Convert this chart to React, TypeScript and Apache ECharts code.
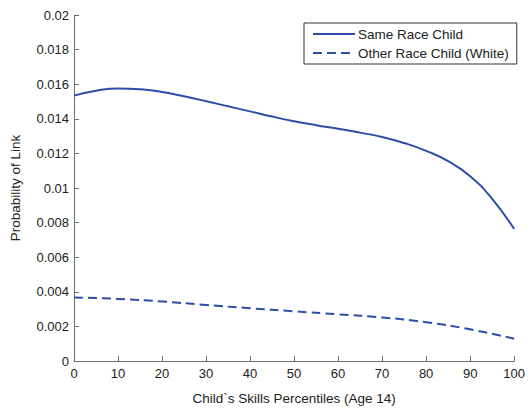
import React, { useEffect, useRef } from "react";
import * as echarts from "echarts";

const xSame = [0, 5, 10, 15, 20, 25, 30, 35, 40, 45, 50, 55, 60, 65, 70, 75, 80, 85, 90, 95, 100];
const sameRace = [0.01534, 0.01562, 0.01575, 0.01571, 0.01555, 0.0153, 0.01502, 0.01472, 0.01443, 0.01413, 0.01386, 0.01363, 0.01343, 0.0132, 0.01295, 0.0126, 0.01215, 0.01155, 0.01068, 0.00937, 0.00763];
const xOther = [0, 10, 20, 30, 40, 50, 60, 70, 80, 90, 100];
const otherRace = [0.00367, 0.00359, 0.00344, 0.00324, 0.00305, 0.00287, 0.0027, 0.00252, 0.00224, 0.00183, 0.00129];
const seriesNames = ["Same Race Child", "Other Race Child (White)"];
const xLabel = "Child`s Skills Percentiles (Age 14)";
const yLabel = "Probability of Link";

const LINE = "#2d4ea8";
const AXIS = "#6e6e6e";
const TEXT = "#222222";
const FONT = "'Liberation Sans', Arial, sans-serif";

export default function App() {
  const ref = useRef<HTMLDivElement>(null);
  useEffect(() => {
    if (!ref.current) return;
    const chart = echarts.init(ref.current, undefined, { renderer: "svg" });
    const axisCommon = {
      axisLine: { show: true, lineStyle: { color: AXIS, width: 1 } },
      axisTick: { show: true, inside: true, length: 5, lineStyle: { color: AXIS } },
      splitLine: { show: false },
      axisLabel: { color: TEXT, fontSize: 13, fontFamily: FONT },
      nameTextStyle: { color: TEXT, fontSize: 13.5, fontFamily: FONT },
    };
    chart.setOption({
      animation: false,
      backgroundColor: "#ffffff",
      grid: { left: 70, right: 9, top: 15, bottom: 42, containLabel: false },
      legend: {
        orient: "vertical",
        left: 304,
        top: 23,
        padding: [4, 8, 4, 8],
        itemGap: 5,
        itemWidth: 42,
        itemHeight: 14,
        borderColor: "#333",
        borderWidth: 1,
        itemStyle: { opacity: 0 },
        textStyle: { color: TEXT, fontSize: 13.5, fontFamily: FONT, padding: [0, 0, 0, -2] },
        data: seriesNames,
      },
      xAxis: {
        type: "value",
        min: 0,
        max: 100,
        interval: 10,
        name: xLabel,
        nameLocation: "middle",
        nameGap: 30,
        ...axisCommon,
        axisLabel: { ...axisCommon.axisLabel, margin: 6 },
      },
      yAxis: {
        type: "value",
        min: 0,
        max: 0.02,
        interval: 0.002,
        name: yLabel,
        nameLocation: "middle",
        nameGap: 52,
        ...axisCommon,
        axisLabel: {
          ...axisCommon.axisLabel,
          margin: 5,
          formatter: (v: number) => String(parseFloat(v.toFixed(3))),
        },
      },
      series: [
        {
          name: seriesNames[0],
          type: "line",
          smooth: 0.5,
          symbol: "none",
          lineStyle: { color: LINE, width: 2 },
          itemStyle: { color: LINE },
          data: xSame.map((x, i) => [x, sameRace[i]]),
        },
        {
          name: seriesNames[1],
          type: "line",
          smooth: 0.5,
          symbol: "none",
          lineStyle: { color: LINE, width: 2, type: [9, 5] },
          itemStyle: { color: LINE },
          data: xOther.map((x, i) => [x, otherRace[i]]),
        },
      ],
    });
    return () => chart.dispose();
  }, []);
  return (
    <div
      ref={ref}
      style={{ position: "fixed", left: 0, top: 0, width: 528, height: 410, background: "#fff" }}
    />
  );
}
